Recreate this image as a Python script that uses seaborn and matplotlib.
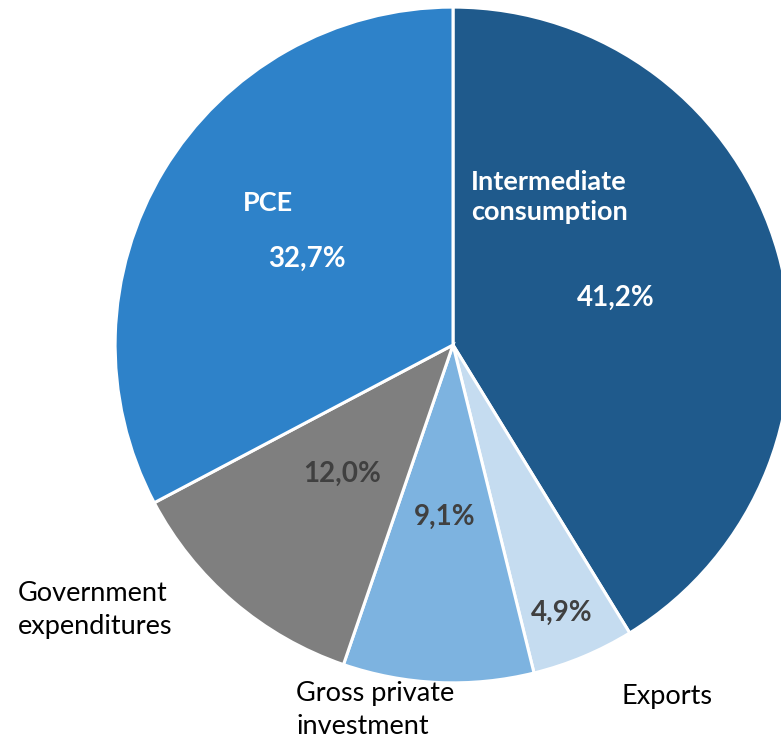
import matplotlib
matplotlib.use("Agg")
import matplotlib.pyplot as plt
import seaborn as sns

# Shares of total use, percent
categories = ["Intermediate\nconsumption", "Exports", "Gross private\ninvestment",
              "Government\nexpenditures", "PCE"]
shares = [41.2, 4.9, 9.1, 12.0, 32.7]
pct_labels = ["41,2%", "4,9%", "9,1%", "12,0%", "32,7%"]
colors = ["#1F5A8C", "#C5DCF0", "#7DB3E0", "#7F7F7F", "#2E82C9"]

sns.set_theme(style="white")
plt.rcParams["font.family"] = ["Lato", "DejaVu Sans"]

fig = plt.figure(figsize=(7.81, 7.43), dpi=100)
ax = fig.add_axes([0, 0, 1, 1])
ax.axis("off")

wedges, _ = ax.pie(shares, colors=colors, startangle=90, counterclock=False,
                   radius=1.0, wedgeprops=dict(edgecolor="white", linewidth=2.2))

ax.set_xlim(-1.340, 0.970)
ax.set_ylim(-1.178, 1.021)
ax.set_aspect("equal")

FS = 19.5

# Category names: white inside the dark slices, black outside the others
ax.text(0.053, 0.438, categories[0], color="white", fontsize=FS, fontweight="bold",
        ha="left", va="center", linespacing=1.3)
ax.text(-0.547, 0.420, categories[4], color="white", fontsize=FS, fontweight="bold",
        ha="center", va="center")
ax.text(-1.287, -0.784, categories[3], color="black", fontsize=FS,
        ha="left", va="center", linespacing=1.4)
ax.text(-0.464, -1.080, categories[2], color="black", fontsize=FS,
        ha="left", va="center", linespacing=1.4)
ax.text(0.500, -1.041, categories[1], color="black", fontsize=FS,
        ha="left", va="center")

# Percentage labels
pct_pos = [(0.482, 0.139), (0.322, -0.793), (-0.024, -0.509),
           (-0.328, -0.382), (-0.432, 0.254)]
pct_colors = ["white", "#404040", "#404040", "#404040", "white"]
for lab, (x, y), c in zip(pct_labels, pct_pos, pct_colors):
    ax.text(x, y, lab, color=c, fontsize=FS + 0.5, fontweight="bold",
            ha="center", va="center")

fig.savefig("out.png", dpi=100, facecolor="white")
